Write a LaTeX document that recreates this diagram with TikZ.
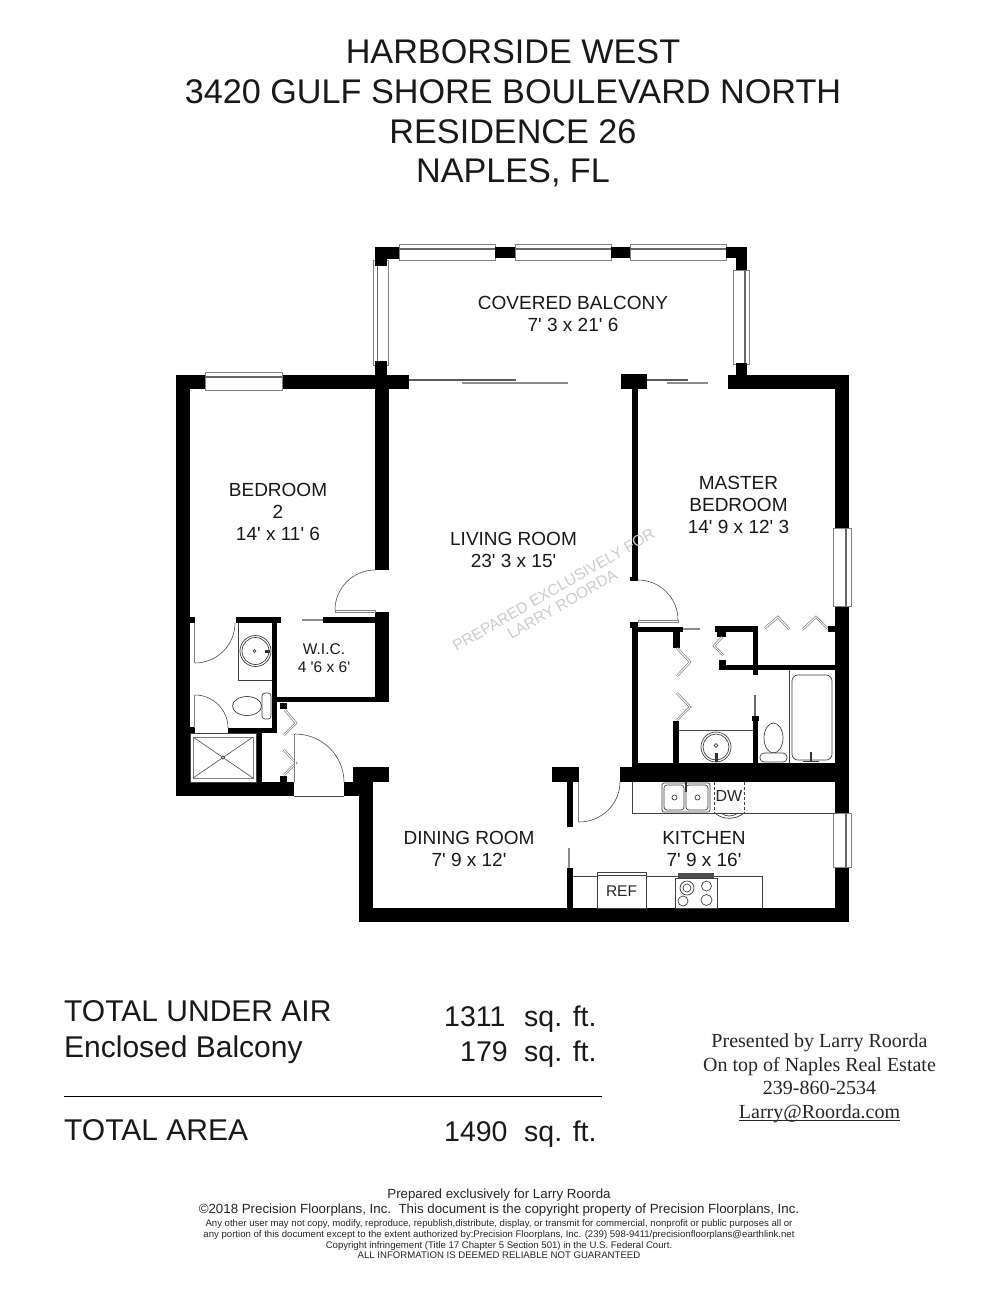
\documentclass[tikz,border=0pt]{standalone}
\usepackage{fontspec}
\setmainfont{Liberation Sans}[Ligatures=TeXOff]
\newfontfamily\serifface{Liberation Serif}
\usetikzlibrary{calc}
\definecolor{framegrey}{gray}{0.5}
\definecolor{barregrey}{gray}{0.55}
\tikzset{
 wall/.style={fill=black,draw=none},
 thinline/.style={draw=black!70,line width=0.6pt},
 frameline/.style={draw=framegrey,line width=0.9pt},
 leaf/.style={draw=framegrey,line width=0.7pt,double=white,double distance=1pt,line join=miter},
 barline/.style={draw=barregrey,line width=2pt},
 fixture/.style={draw=black!75,line width=0.7pt},
 roomlabel/.style={align=center,font=\fontsize{19}{22}\selectfont,text=black!90,inner sep=0pt},
 titletext/.style={align=center,font=\fontsize{34.2}{39.7}\selectfont,text=black!90,inner sep=0pt},
 areatext/.style={anchor=base west,font=\fontsize{30}{30}\selectfont,text=black!90,inner sep=0pt},
 areanum/.style={anchor=base west,font=\fontsize{28.5}{30}\selectfont,text=black!90,inner sep=0pt},
 finetext/.style={inner sep=0pt,text=black!85,anchor=base}
}
\newcommand{\swing}[3]{\draw[thinline] (#1) .. controls ($(#1)!0.55!(#2)$) and ($(#3)!0.55!(#2)$) .. (#3);}
\newcommand{\wallr}[4]{\fill[wall] (#1,#2) rectangle (#3,#4);}
\newcommand{\hwin}[4]{\filldraw[fill=white,frameline] (#1,#2) rectangle (#3,#4);\draw[draw=black!60,line width=1.6pt] (#1,{#2+5}) -- (#3,{#2+5});}
\newcommand{\vwinr}[4]{\filldraw[fill=white,frameline] (#1,#2) rectangle (#3,#4);\draw[draw=black!60,line width=1.6pt] ({#3-4},#2) -- ({#3-4},#4);}
\newcommand{\vwinl}[4]{\filldraw[fill=white,frameline] (#1,#2) rectangle (#3,#4);\draw[draw=black!60,line width=1.6pt] ({#1+4},#2) -- ({#1+4},#4);}
\begin{document}
\begin{tikzpicture}[x=1pt,y=-1pt]
\useasboundingbox[fill=white] (0,0) rectangle (1000,1294);
% title
\node[titletext] (title) at (513,113.5) {HARBORSIDE WEST\\3420 GULF SHORE BOULEVARD NORTH\\RESIDENCE 26\\NAPLES, FL};
% balcony windows
\hwin{399}{244}{495}{260}
\hwin{515}{244}{611}{260}
\hwin{630}{244}{726}{260}
\vwinl{373.5}{260}{388}{365}
\vwinr{733.5}{270}{749}{364}
% balcony blocks
\wallr{375}{247}{399}{259}\wallr{375}{247}{387}{266}
\wallr{495}{247}{515}{258}
\wallr{611}{247}{630}{258}
\wallr{726}{247}{747}{258}\wallr{736}{247}{747}{270}
\wallr{375}{361}{387}{375}
\wallr{736}{363}{747}{375}
% top wall pieces
\wallr{177}{375}{409}{389}
\wallr{621}{374}{647}{389}
\wallr{728}{375}{849}{389}
% sliding doors
\draw[barline,draw=black!65] (409,380) -- (516,380);
\draw[barline] (462,383) -- (568,383);
\draw[barline,draw=black!65] (647,380) -- (688,380);
\draw[barline] (667,383) -- (708,383);
% outer walls
\wallr{176}{375}{190}{796}
\wallr{176}{782}{294}{796}
\wallr{375}{389}{389}{570}
\wallr{375}{612}{389}{702}
\wallr{344}{782}{373}{796}
\wallr{353}{767}{389}{782}
\wallr{359}{767}{373}{922}
\wallr{359}{908}{849}{922}
\wallr{835}{375}{849}{922}
% bedroom 2 window
\filldraw[fill=white,frameline] (205,372) rectangle (282,390);
\draw[draw=black!60,line width=1.6pt] (205,377) -- (282,377);
% master windows
\filldraw[fill=white,frameline] (833,528) rectangle (851,606);
\draw[draw=black!60,line width=1.6pt] (846,528) -- (846,606);
\filldraw[fill=white,frameline] (833,813) rectangle (851,867);
\draw[draw=black!60,line width=1.6pt] (846,813) -- (846,867);
% bedroom door
\draw[frameline] (335,610) rectangle (375,612.5);
\swing{335,610}{335,570}{375,570}
% WIC and bath walls
\wallr{323}{617}{375}{623}
\draw[barline] (302,620) -- (323,620);
\wallr{272}{697}{389}{702}
\wallr{272}{617}{277}{733}
\wallr{236}{617}{281}{623}
\wallr{228}{728}{277}{733}
\wallr{256}{733}{262}{782}
\wallr{190}{617}{195}{623}
\wallr{190}{727}{195}{733}
% bath doors
\draw[leaf] (195,623) -- (195,663);
\swing{195,663}{235,663}{235,623}
\draw[leaf] (195,695) -- (195,728);
\swing{195,695}{228,695}{228,728}
% sink bedroom bath
\draw[fixture] (238,623) -- (238,680) -- (272,680);
\draw[fixture] (255.5,651) circle (15.5);
\draw[fixture] (255.5,651) circle (13.5);
\draw[fixture,fill=white] (254.5,651) circle (1.5);
\fill[black!80] (265,649.5) rectangle (270,652.5);
% toilet
\draw[fixture] (247,706) ellipse (14.5 and 9.5);
\filldraw[fixture,fill=white,rounded corners=3pt] (262,693) rectangle (271,719);
% shower
\draw[fixture] (190,733) rectangle (256,782);
\draw[frameline] (193,737) rectangle (253,778);
\draw[thinline] (193,737) -- (253,778) (193,778) -- (253,737);
\filldraw[fixture,fill=white] (223,757.5) circle (1.7);
% hall bifolds
\wallr{280}{703}{287}{709}
\wallr{280}{776}{287}{782}
\draw[leaf] (285,710) -- (296,723) -- (284,735);
\draw[leaf] (284,750) -- (296,763) -- (284,775);
% entry door
\draw[leaf] (295,734) -- (295,782);
\swing{295,734}{344,734}{344,782}
\draw[thinline] (294,796) -- (344,796);
% master closet walls
\wallr{632}{389}{638}{580}
\wallr{630}{577}{638}{581}
\wallr{632}{622}{638}{767}
\wallr{630}{622}{638}{628}
\wallr{632}{627}{683}{632}
\draw[barline] (683,629) -- (700,629);
\draw[frameline] (638,620) rectangle (678,622.5);
\swing{678,620}{678,580}{638,580}
\wallr{673}{632}{680}{648}
\wallr{673}{721}{679}{763}
\draw[leaf] (677,648) -- (690,662) -- (677,676);
\draw[leaf] (677,693) -- (690,707) -- (677,720);
\draw[thinline] (679,730) -- (753,730);
% closet block
\wallr{715}{626}{758}{632}
\wallr{717}{632}{726}{637}
\wallr{719}{660}{726}{670}
\wallr{719}{665}{835}{670}
\wallr{753}{626}{758}{675}
\draw[leaf] (722,637) -- (714,646) -- (723,655);
\draw[leaf] (765,628) -- (778,617) -- (789,629);
\draw[leaf] (803,629) -- (816,617) -- (828,629);
\wallr{828}{626}{835}{632}
% master bath
\wallr{753}{716}{758}{763}
\wallr{752}{716}{759}{721}
\draw[barline,draw=black!60] (755,695) -- (755,716);
\wallr{632}{763}{849}{782}
\wallr{620}{767}{632}{782}
% master sink
\draw[fixture] (716,747) circle (15);
\draw[fixture] (716,747) circle (13);
\filldraw[fixture,fill=white] (716,745.5) circle (1.8);
\fill[black!80] (714.5,753) rectangle (717.5,762);
% master toilet
\draw[fixture] (773.5,738) ellipse (9.5 and 15);
\filldraw[fixture,fill=white,rounded corners=4pt] (760,753) rectangle (787,762);
% tub
\draw[fixture] (789,670) -- (789,763);
\draw[fixture,rounded corners=6pt] (792,675) rectangle (832,760);
\fill[black!80] (810,752) rectangle (812,762);
\draw[fixture] (803,761) -- (819,761);
% kitchen
\draw[fixture] (632,782) -- (632,813) -- (835,813);
\draw[fixture,rounded corners=2pt] (662,783) rectangle (710,812);
\draw[fixture,rounded corners=3pt] (664,785) rectangle (684,810);
\draw[fixture,rounded corners=3pt] (686,785) rectangle (708,810);
\draw[fixture] (674.5,797.5) circle (2.5);
\draw[fixture] (697.5,797.5) circle (2.5);
\fill[black!80] (685,782) rectangle (686.5,792);
\draw[fixture,densely dashed] (714.5,782) -- (714.5,813) (744,782) -- (744,813);
\node[inner sep=0pt,font=\fontsize{16}{16}\selectfont,text=black!85] (dw) at (729,795.5) {DW};
\draw[fixture] (715,813) .. controls (722,820) and (736,820) .. (744,813);
\draw[fixture] (721,813) .. controls (726,817) and (732,817) .. (738,813);
% kitchen door
\wallr{552}{767}{579}{782}
\wallr{567}{782}{573}{827}
\draw[leaf] (579,782) -- (579,822);
\swing{579,822}{620,822}{620,782}
\draw[barline] (569,848) -- (569,868);
\wallr{567}{868}{573}{908}
% lower counter
\draw[fixture] (573,876) -- (762,876) -- (762,908);
\filldraw[fixture,fill=white] (597,872) rectangle (646,908);
\draw[fixture] (597,875) -- (646,875);
\node[inner sep=0pt,font=\fontsize{15.5}{15}\selectfont,text=black!85] (ref) at (621.5,891.5) {REF};
\filldraw[fixture,fill=white] (675,878) rectangle (717,908);
\fill[black!70] (678,873) rectangle (714,878);
\draw[fixture] (687,888) circle (7);
\draw[fixture] (687,888) circle (4);
\draw[fixture] (706.5,886) circle (5);
\draw[fixture] (683,901) circle (5);
\draw[fixture] (706.5,900) circle (5.5);
% room labels
\node[roomlabel] (balcony) at (573,314) {COVERED BALCONY\\7' 3 x 21' 6};
\node[roomlabel] (bedroom) at (278,512) {BEDROOM\\2\\14' x 11' 6};
\node[roomlabel] (living) at (513.5,550) {LIVING ROOM\\23' 3 x 15'};
\node[roomlabel] (master) at (738.5,505) {MASTER\\BEDROOM\\14' 9 x 12' 3};
\node[roomlabel,font=\fontsize{15.5}{18}\selectfont] (wic) at (324,658) {W.I.C.\\4 '6 x 6'};
\node[roomlabel] (dining) at (469,849) {DINING ROOM\\7' 9 x 12'};
\node[roomlabel] (kitchen) at (704,849) {KITCHEN\\7' 9 x 16'};
\node[roomlabel,rotate=30,text=black!20,font=\fontsize{15.5}{17}\selectfont] (mark) at (558,597) {PREPARED EXCLUSIVELY FOR\\LARRY ROORDA};
% area table
\node[areatext] (t1) at (64,1021) {TOTAL UNDER AIR};
\node[areatext] (t2) at (64,1057) {Enclosed Balcony};
\node[areatext] (t3) at (64,1140) {TOTAL AREA};
\node[areanum] (n1) at (444,1026) {1311};
\node[areanum] (s1) at (524,1026) {sq. ft.};
\node[areanum] (n2) at (460,1061) {179};
\node[areanum] (s2) at (524,1061) {sq. ft.};
\node[areanum] (n3) at (444,1141) {1490};
\node[areanum] (s3) at (524,1141) {sq. ft.};
\draw[black,line width=1pt] (64,1096) -- (602,1096);
% presented by
\node[inner sep=0pt,align=center,font=\serifface\fontsize{20}{23.5}\selectfont,text=black!85] (pres) at (819.5,1078) {Presented by Larry Roorda\\On top of Naples Real Estate\\239-860-2534\\Larry@Roorda.com};
\draw[black!85,line width=0.7pt] (739,1120) -- (900,1120);
% fine print
\node[finetext,font=\fontsize{13.3}{13}\selectfont] (f1) at (499,1198) {Prepared exclusively for Larry Roorda};
\node[finetext,font=\fontsize{13.3}{13}\selectfont] (f2) at (499,1213) {©2018 Precision Floorplans, Inc.\ \ This document is the copyright property of Precision Floorplans, Inc.};
\node[finetext,font=\fontsize{9.6}{10}\selectfont] (f3) at (499,1226) {Any other user may not copy, modify, reproduce, republish,distribute, display, or transmit for commercial, nonprofit or public purposes all or};
\node[finetext,font=\fontsize{9.6}{10}\selectfont] (f4) at (499,1237) {any portion of this document except to the extent authorized by:Precision Floorplans, Inc. (239) 598-9411/precisionfloorplans@earthlink.net};
\node[finetext,font=\fontsize{9.6}{10}\selectfont] (f5) at (499,1248) {Copyright infringement (Title 17 Chapter 5 Section 501) in the U.S. Federal Court.};
\node[finetext,font=\fontsize{9.6}{10}\selectfont] (f6) at (499,1258) {ALL INFORMATION IS DEEMED RELIABLE NOT GUARANTEED};
\end{tikzpicture}
\end{document}
